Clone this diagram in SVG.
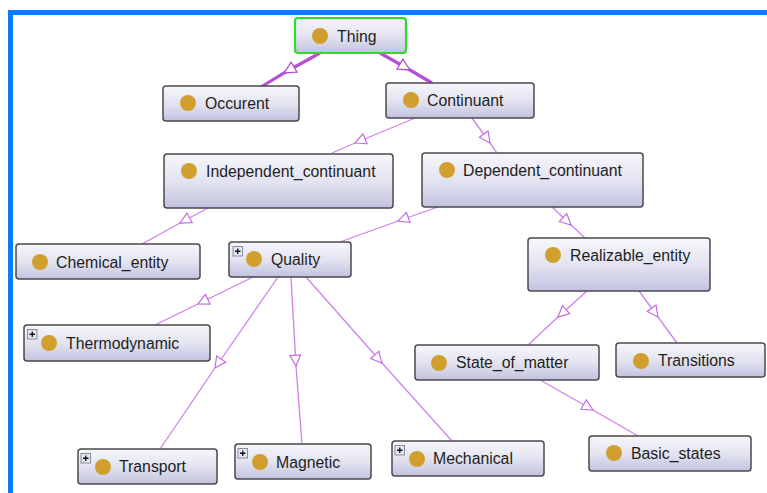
<svg xmlns="http://www.w3.org/2000/svg" width="767" height="493" viewBox="0 0 767 493">
  <defs>
    <linearGradient id="nodeFill" x1="0" y1="0" x2="0" y2="1">
      <stop offset="0" stop-color="#f6f6fb"/>
      <stop offset="0.5" stop-color="#e4e4f1"/>
      <stop offset="1" stop-color="#c2c2e0"/>
    </linearGradient>
    <marker id="tri" viewBox="0 0 12 12" refX="11" refY="6" markerWidth="13" markerHeight="13" markerUnits="userSpaceOnUse" orient="auto">
      <path d="M1,1 L11,6 L1,11 Z" fill="#ffffff" stroke="#c36be0" stroke-width="1.1"/>
    </marker>
    <marker id="triBold" viewBox="0 0 12 12" refX="11" refY="6" markerWidth="14" markerHeight="14" markerUnits="userSpaceOnUse" orient="auto">
      <path d="M1,1 L11,6 L1,11 Z" fill="#ffffff" stroke="#b64fd8" stroke-width="1.1"/>
    </marker>
  </defs>
  <style>
    .box { fill: url(#nodeFill); stroke: #4a4a4a; stroke-width: 1.5; }
    .root { fill: url(#nodeFill); stroke: #2ddc2d; stroke-width: 2.2; }
    .dot { fill: #d09f2e; }
    .lbl { font-family: "Liberation Sans", Arial, sans-serif; font-size: 15.8px; fill: #1e1e1e; }
    .edge { fill: none; stroke: #cf82ec; stroke-width: 1.3; marker-mid: url(#tri); }
    .edge.bold { stroke: #b64fd8; stroke-width: 3.2; marker-mid: url(#triBold); }
    .plus rect { fill: #e4e8ee; stroke: #7a8594; stroke-width: 0.9; }
    .plus path { stroke: #111; stroke-width: 1.3; }
  </style>

  <rect x="0" y="0" width="767" height="493" fill="#ffffff"/>
  <!-- frame -->
  <rect x="8" y="10" width="759" height="5" fill="#0a7cfa"/>
  <rect x="8" y="10" width="5" height="483" fill="#0a7cfa"/>

  <!-- connectors -->
  <g id="connectors">
    <path class="edge bold" d="M320,53 L284,73 L261,87"/>
    <path class="edge bold" d="M380,53 L410,70 L432,83"/>
    <path class="edge" d="M415,118 L355,143 L332,153"/>
    <path class="edge" d="M472,118 L490,143 L497,153"/>
    <path class="edge" d="M208,208 L180,223 L142,244"/>
    <path class="edge" d="M438,207 L398,221 L340,242"/>
    <path class="edge" d="M552,207 L571,225 L585,238"/>
    <path class="edge" d="M253,277 L198,304 L155,325"/>
    <path class="edge" d="M278,277 L215,368 L160,449"/>
    <path class="edge" d="M291,277 L296,366 L302,444"/>
    <path class="edge" d="M306,277 L382,363 L452,441"/>
    <path class="edge" d="M587,291 L558,317 L528,345"/>
    <path class="edge" d="M639,291 L658,317 L677,343"/>
    <path class="edge" d="M540,380 L593,410 L638,436"/>
  </g>

  <g id="thing">
    <rect class="root" x="295" y="18" width="111" height="35" rx="3"/>
    <circle class="dot" cx="320" cy="36" r="8"/>
    <text class="lbl" x="337" y="42">Thing</text>
  </g>
  <g id="occurent">
    <rect class="box" x="163" y="86" width="136" height="35" rx="3"/>
    <circle class="dot" cx="188" cy="103" r="8"/>
    <text class="lbl" x="205" y="109">Occurent</text>
  </g>
  <g id="continuant">
    <rect class="box" x="386" y="83" width="148" height="35" rx="3"/>
    <circle class="dot" cx="411" cy="100" r="8"/>
    <text class="lbl" x="427" y="106">Continuant</text>
  </g>
  <g id="independent_continuant">
    <rect class="box" x="164" y="154" width="229" height="54" rx="3"/>
    <circle class="dot" cx="189" cy="171" r="8"/>
    <text class="lbl" x="206" y="177">Independent_continuant</text>
  </g>
  <g id="dependent_continuant">
    <rect class="box" x="422" y="153" width="221" height="54" rx="3"/>
    <circle class="dot" cx="447" cy="170" r="8"/>
    <text class="lbl" x="463" y="176">Dependent_continuant</text>
  </g>
  <g id="chemical_entity">
    <rect class="box" x="16" y="244" width="184" height="35" rx="3"/>
    <circle class="dot" cx="40" cy="262" r="8"/>
    <text class="lbl" x="56" y="268">Chemical_entity</text>
  </g>
  <g id="quality">
    <rect class="box" x="229" y="242" width="122" height="35" rx="3"/>
    <g class="plus"><rect x="233" y="246.5" width="9.5" height="9.5"/><path d="M235,251.25 H240.5 M237.75,248.5 V254"/></g>
    <circle class="dot" cx="254" cy="259" r="8"/>
    <text class="lbl" x="271" y="265">Quality</text>
  </g>
  <g id="realizable_entity">
    <rect class="box" x="528" y="238" width="182" height="53" rx="3"/>
    <circle class="dot" cx="553" cy="255" r="8"/>
    <text class="lbl" x="570" y="261">Realizable_entity</text>
  </g>
  <g id="thermodynamic">
    <rect class="box" x="24" y="325" width="186" height="36" rx="3"/>
    <g class="plus"><rect x="27.5" y="329.5" width="9.5" height="9.5"/><path d="M29.5,334.25 H35 M32.25,331.5 V337"/></g>
    <circle class="dot" cx="49" cy="343" r="8"/>
    <text class="lbl" x="66" y="349">Thermodynamic</text>
  </g>
  <g id="state_of_matter">
    <rect class="box" x="415" y="345" width="184" height="35" rx="3"/>
    <circle class="dot" cx="439" cy="363" r="8"/>
    <text class="lbl" x="456" y="368">State_of_matter</text>
  </g>
  <g id="transitions">
    <rect class="box" x="616" y="343" width="149" height="34" rx="3"/>
    <circle class="dot" cx="641" cy="361" r="8"/>
    <text class="lbl" x="658" y="366">Transitions</text>
  </g>
  <g id="transport">
    <rect class="box" x="78" y="449" width="139" height="35" rx="3"/>
    <g class="plus"><rect x="81" y="453.5" width="9.5" height="9.5"/><path d="M83,458.25 H88.5 M85.75,455.5 V461"/></g>
    <circle class="dot" cx="103" cy="467" r="8"/>
    <text class="lbl" x="119" y="472">Transport</text>
  </g>
  <g id="magnetic">
    <rect class="box" x="235" y="444" width="136" height="35" rx="3"/>
    <g class="plus"><rect x="238" y="448.5" width="9.5" height="9.5"/><path d="M240,453.25 H245.5 M242.75,450.5 V456"/></g>
    <circle class="dot" cx="260" cy="462" r="8"/>
    <text class="lbl" x="276" y="468">Magnetic</text>
  </g>
  <g id="mechanical">
    <rect class="box" x="392" y="441" width="152" height="35" rx="3"/>
    <g class="plus"><rect x="395" y="445.5" width="9.5" height="9.5"/><path d="M397,450.25 H402.5 M399.75,447.5 V453"/></g>
    <circle class="dot" cx="417" cy="459" r="8"/>
    <text class="lbl" x="433" y="464">Mechanical</text>
  </g>
  <g id="basic_states">
    <rect class="box" x="589" y="436" width="162" height="35" rx="3"/>
    <circle class="dot" cx="614" cy="453" r="8"/>
    <text class="lbl" x="631" y="459">Basic_states</text>
  </g>
</svg>
